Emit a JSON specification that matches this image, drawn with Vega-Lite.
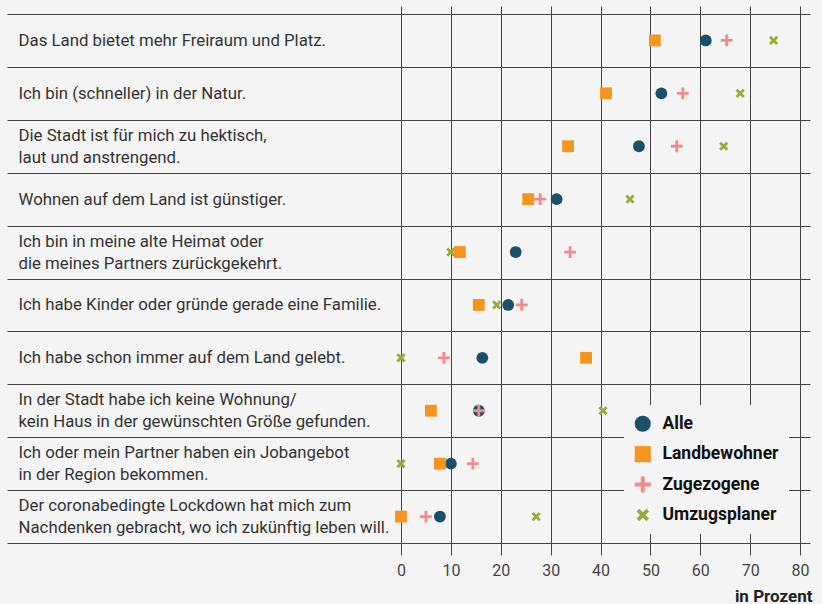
{
  "$schema": "https://vega.github.io/schema/vega-lite/v6.json",
  "autosize": "none",
  "width": 409,
  "height": 529,
  "padding": {"left": 401, "top": 14, "right": 12, "bottom": 61},
  "background": "#f4f4f4",
  "title": {
    "text": "Gründe für das Landleben",
    "anchor": "start",
    "frame": "group",
    "dx": -381,
    "fontSize": 16,
    "fontWeight": "bold",
    "color": "#222",
    "baseline": "alphabetic",
    "offset": 4
  },
  "config": {
    "font": "Roboto",
    "view": {"stroke": null},
    "legend": {"symbolStrokeWidth": 0}
  },
  "data": {
    "values": [
      {"reason": "Das Land bietet mehr Freiraum und Platz.", "series": "Umzugsplaner", "value": 74.7},
      {"reason": "Ich bin (schneller) in der Natur.", "series": "Umzugsplaner", "value": 68.0},
      {"reason": "Die Stadt ist für mich zu hektisch,|laut und anstrengend.", "series": "Umzugsplaner", "value": 64.7},
      {"reason": "Wohnen auf dem Land ist günstiger.", "series": "Umzugsplaner", "value": 45.9},
      {"reason": "Ich bin in meine alte Heimat oder|die meines Partners zurückgekehrt.", "series": "Umzugsplaner", "value": 10.0},
      {"reason": "Ich habe Kinder oder gründe gerade eine Familie.", "series": "Umzugsplaner", "value": 19.2},
      {"reason": "Ich habe schon immer auf dem Land gelebt.", "series": "Umzugsplaner", "value": 0},
      {"reason": "In der Stadt habe ich keine Wohnung/|kein Haus in der gewünschten Größe gefunden.", "series": "Umzugsplaner", "value": 40.5},
      {"reason": "Ich oder mein Partner haben ein Jobangebot|in der Region bekommen.", "series": "Umzugsplaner", "value": 0},
      {"reason": "Der coronabedingte Lockdown hat mich zum|Nachdenken gebracht, wo ich zukünftig leben will.", "series": "Umzugsplaner", "value": 27.1},

      {"reason": "Das Land bietet mehr Freiraum und Platz.", "series": "Alle", "value": 61.1},
      {"reason": "Ich bin (schneller) in der Natur.", "series": "Alle", "value": 52.2},
      {"reason": "Die Stadt ist für mich zu hektisch,|laut und anstrengend.", "series": "Alle", "value": 47.7},
      {"reason": "Wohnen auf dem Land ist günstiger.", "series": "Alle", "value": 31.2},
      {"reason": "Ich bin in meine alte Heimat oder|die meines Partners zurückgekehrt.", "series": "Alle", "value": 23.0},
      {"reason": "Ich habe Kinder oder gründe gerade eine Familie.", "series": "Alle", "value": 21.5},
      {"reason": "Ich habe schon immer auf dem Land gelebt.", "series": "Alle", "value": 16.3},
      {"reason": "In der Stadt habe ich keine Wohnung/|kein Haus in der gewünschten Größe gefunden.", "series": "Alle", "value": 15.6},
      {"reason": "Ich oder mein Partner haben ein Jobangebot|in der Region bekommen.", "series": "Alle", "value": 10.0},
      {"reason": "Der coronabedingte Lockdown hat mich zum|Nachdenken gebracht, wo ich zukünftig leben will.", "series": "Alle", "value": 7.8},

      {"reason": "Das Land bietet mehr Freiraum und Platz.", "series": "Landbewohner", "value": 50.9},
      {"reason": "Ich bin (schneller) in der Natur.", "series": "Landbewohner", "value": 41.1},
      {"reason": "Die Stadt ist für mich zu hektisch,|laut und anstrengend.", "series": "Landbewohner", "value": 33.5},
      {"reason": "Wohnen auf dem Land ist günstiger.", "series": "Landbewohner", "value": 25.5},
      {"reason": "Ich bin in meine alte Heimat oder|die meines Partners zurückgekehrt.", "series": "Landbewohner", "value": 11.8},
      {"reason": "Ich habe Kinder oder gründe gerade eine Familie.", "series": "Landbewohner", "value": 15.6},
      {"reason": "Ich habe schon immer auf dem Land gelebt.", "series": "Landbewohner", "value": 37.1},
      {"reason": "In der Stadt habe ich keine Wohnung/|kein Haus in der gewünschten Größe gefunden.", "series": "Landbewohner", "value": 6.0},
      {"reason": "Ich oder mein Partner haben ein Jobangebot|in der Region bekommen.", "series": "Landbewohner", "value": 7.8},
      {"reason": "Der coronabedingte Lockdown hat mich zum|Nachdenken gebracht, wo ich zukünftig leben will.", "series": "Landbewohner", "value": 0},

      {"reason": "Das Land bietet mehr Freiraum und Platz.", "series": "Zugezogene", "value": 65.3},
      {"reason": "Ich bin (schneller) in der Natur.", "series": "Zugezogene", "value": 56.5},
      {"reason": "Die Stadt ist für mich zu hektisch,|laut und anstrengend.", "series": "Zugezogene", "value": 55.3},
      {"reason": "Wohnen auf dem Land ist günstiger.", "series": "Zugezogene", "value": 27.9},
      {"reason": "Ich bin in meine alte Heimat oder|die meines Partners zurückgekehrt.", "series": "Zugezogene", "value": 33.9},
      {"reason": "Ich habe Kinder oder gründe gerade eine Familie.", "series": "Zugezogene", "value": 24.2},
      {"reason": "Ich habe schon immer auf dem Land gelebt.", "series": "Zugezogene", "value": 8.6},
      {"reason": "In der Stadt habe ich keine Wohnung/|kein Haus in der gewünschten Größe gefunden.", "series": "Zugezogene", "value": 15.6},
      {"reason": "Ich oder mein Partner haben ein Jobangebot|in der Region bekommen.", "series": "Zugezogene", "value": 14.4},
      {"reason": "Der coronabedingte Lockdown hat mich zum|Nachdenken gebracht, wo ich zukünftig leben will.", "series": "Zugezogene", "value": 5.0}
    ]
  },
  "resolve": {"axis": {"x": "independent"}},
  "layer": [
    {
      "mark": {"type": "point", "filled": true, "opacity": 1, "size": 140, "strokeWidth": 0},
      "encoding": {
        "x": {
          "field": "value",
          "type": "quantitative",
          "scale": {"domain": [0, 82], "nice": false, "zero": false},
          "axis": {
            "orient": "bottom",
            "values": [0, 10, 20, 30, 40, 50, 60, 70, 80],
            "domain": false,
            "grid": true,
            "gridColor": "#444",
            "gridWidth": 1,
            "gridOpacity": 1,
            "ticks": true,
            "tickSize": 12,
            "tickColor": "#444",
            "tickWidth": 1,
            "labelFontSize": 16,
            "labelColor": "#444",
            "labelPadding": 7,
            "labelFlush": false,
            "title": "in Prozent",
            "titleFontSize": 17,
            "titleFontWeight": "bold",
            "titleColor": "#222",
            "titleAlign": "right",
            "titleBaseline": "alphabetic",
            "titleX": 411,
            "titleY": 58
          }
        },
        "y": {
          "field": "reason",
          "type": "nominal",
          "sort": null,
          "scale": {"paddingInner": 0, "paddingOuter": 0},
          "axis": {
            "title": null,
            "domain": false,
            "tickBand": "extent",
            "ticks": true,
            "tickSize": 394,
            "tickColor": "#444",
            "tickWidth": 1,
            "grid": true,
            "gridColor": "#444",
            "gridWidth": 1,
            "gridOpacity": 1,
            "labelAlign": "left",
            "labelBaseline": "middle",
            "labelPadding": -11,
            "labelFontSize": 16.8,
            "labelColor": "#333",
            "labelLimit": 0,
            "labelLineHeight": 22,
            "labelOffset": {"condition": {"test": "indexof(datum.label, '|') >= 0", "value": -11}, "value": 0},
            "labelExpr": "split(datum.label, '|')"
          }
        },
        "color": {
          "field": "series",
          "type": "nominal",
          "scale": {
            "domain": ["Alle", "Landbewohner", "Zugezogene", "Umzugsplaner"],
            "range": ["#1b5069", "#f7941e", "#f48b8b", "#9aab3b"]
          },
          "legend": {
            "title": null,
            "orient": "none",
            "legendX": 223,
            "legendY": 391,
            "padding": 10,
            "fillColor": "#f4f4f4",
            "symbolSize": 260,
            "symbolOpacity": 1,
            "labelFontSize": 17.5,
            "labelFontWeight": "bold",
            "labelColor": "#111",
            "labelOffset": 11,
            "rowPadding": 11.4
          }
        },
        "shape": {
          "field": "series",
          "type": "nominal",
          "scale": {
            "domain": ["Alle", "Landbewohner", "Zugezogene", "Umzugsplaner"],
            "range": [
              "circle",
              "square",
              "M-1,-0.24H-0.24V-1H0.24V-0.24H1V0.24H0.24V1H-0.24V0.24H-1Z",
              "M-0.78,-0.44L-0.44,-0.78L0,-0.34L0.44,-0.78L0.78,-0.44L0.34,0L0.78,0.44L0.44,0.78L0,0.34L-0.44,0.78L-0.78,0.44L-0.34,0Z"
            ]
          },
          "legend": {
            "title": null,
            "orient": "none",
            "legendX": 223,
            "legendY": 391,
            "padding": 10,
            "fillColor": "#f4f4f4",
            "symbolSize": 260,
            "symbolOpacity": 1,
            "labelFontSize": 17.5,
            "labelFontWeight": "bold",
            "labelColor": "#111",
            "labelOffset": 11,
            "rowPadding": 11.4
          }
        }
      }
    },
    {
      "mark": {"type": "point", "opacity": 0},
      "encoding": {
        "x": {
          "field": "value",
          "type": "quantitative",
          "axis": {
            "orient": "top",
            "values": [0, 10, 20, 30, 40, 50, 60, 70, 80],
            "domain": false,
            "grid": false,
            "labels": false,
            "ticks": true,
            "tickSize": 8,
            "tickColor": "#444",
            "tickWidth": 1,
            "title": null
          }
        },
        "y": {"field": "reason", "type": "nominal", "sort": null}
      }
    }
  ]
}
